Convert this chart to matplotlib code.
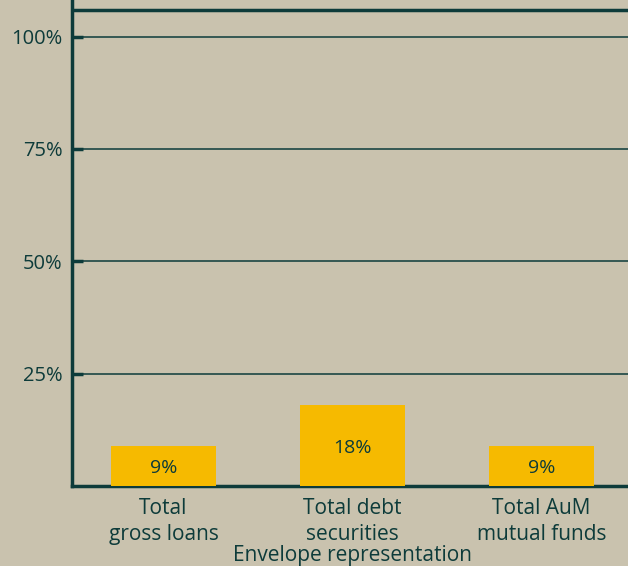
import matplotlib.pyplot as plt
from matplotlib.ticker import FuncFormatter

categories = ["Total\ngross loans", "Total debt\nsecurities", "Total AuM\nmutual funds"]
shares = [9, 18, 9]
bar_labels = ["9%", "18%", "9%"]
y_ticks = [25, 50, 75, 100]
top_line = 105.9
x_title = "Envelope representation"

bg = "#c9c2ae"
ink = "#0d3b3a"
gold = "#f6ba00"

plt.rcParams['font.family'] = ['Open Sans', 'DejaVu Sans']

fig = plt.figure(figsize=(6.28, 5.66), dpi=100)
fig.patch.set_facecolor(bg)
# axes runs a bit past the top and right edges, like the cropped original
ax = fig.add_axes([72/628, 1 - 486/566, 561/628, 524/566])
ax.set_facecolor(bg)

x = range(len(categories))
bars = ax.bar(x, shares, width=0.556, color=gold, zorder=3)
for b, lab in zip(bars, bar_labels):
    ax.text(b.get_x() + b.get_width()/2, b.get_height()/2 - 0.6, lab,
            ha='center', va='center', fontsize=14, color=ink, zorder=4)

ax.set_xlim(-0.484, 2.484)
ax.set_ylim(0, 116.6)
ax.axhline(top_line, color=ink, linewidth=2.5, zorder=2)
ax.set_yticks(y_ticks)
ax.yaxis.set_major_formatter(FuncFormatter(lambda v, p: f"{v:.0f}%"))
ax.set_xticks(list(x))
ax.set_xticklabels(categories, linespacing=1.3)
ax.grid(axis='y', color=ink, linewidth=1.1, zorder=1)

for s in ['left', 'bottom']:
    ax.spines[s].set_color(ink)
    ax.spines[s].set_linewidth(2.5)
ax.spines['right'].set_visible(False)
ax.spines['top'].set_visible(False)

ax.tick_params(axis='y', colors=ink, labelsize=14.5, length=8, width=2.5, direction='in', pad=7)
ax.tick_params(axis='x', colors=ink, labelsize=15, length=0, pad=9)
ax.set_xlabel(x_title, fontsize=15, color=ink, labelpad=0)

fig.savefig("out.png", dpi=100, facecolor=bg)
